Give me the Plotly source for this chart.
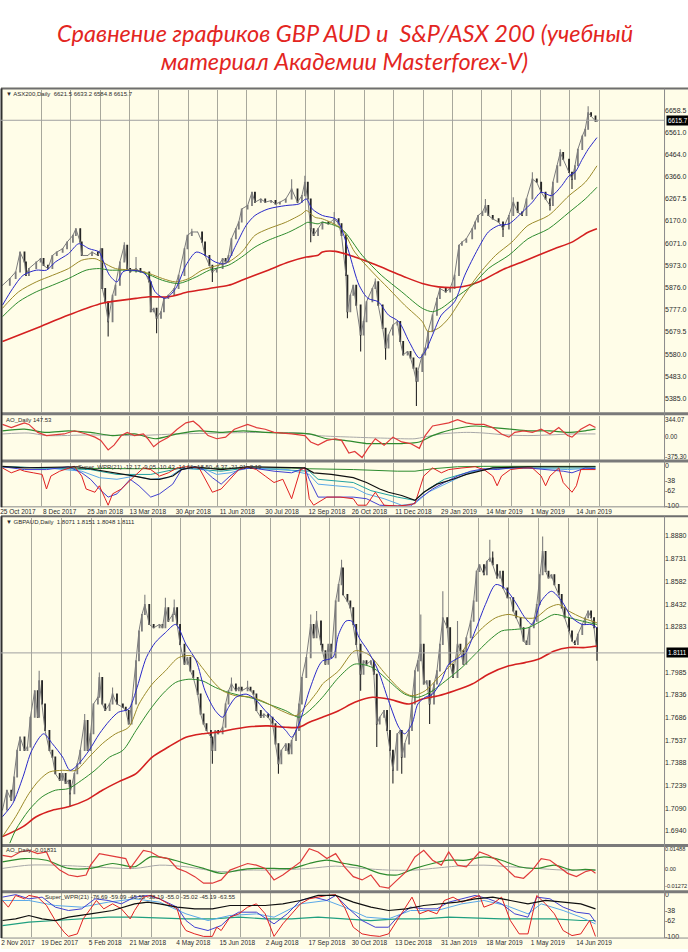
import plotly.graph_objects as go

# ---------------- DATA ----------------
# Top chart: ASX200 daily, x = bar number (trading days from 25 Oct 2017)
top_bar = [0, 5, 9, 12, 15, 16, 18, 23, 26, 28,
           31, 34, 37, 41, 44, 48, 50, 53, 54, 58,
           61, 65, 67, 68, 70, 72, 75, 77, 80, 83,
           85, 87, 91, 94, 97, 100, 101, 103, 105, 108,
           110, 113, 117, 120, 124, 126, 129, 133, 136, 138,
           141, 143, 146, 150, 152, 154, 156, 159, 161, 163,
           167, 170, 172, 176, 179, 183, 186, 189, 193, 197,
           201, 204, 206, 208, 210, 212, 215, 218, 222, 226,
           229, 231, 234, 235, 237, 239, 241, 244, 246, 248,
           252, 254, 256, 259, 261, 263, 266, 269, 271, 273,
           276, 278, 280, 282, 283, 286, 288, 290, 293, 296,
           298, 302, 305, 308, 311, 313, 316, 320, 322, 324,
           327, 329, 331, 334, 338, 341, 345, 348, 351, 354,
           357, 361, 364, 367, 370, 373, 375, 378, 380, 382,
           386, 388, 390, 392, 395, 397, 399, 401, 404, 405]
top_close = [5885, 5915, 5944, 6032, 5988, 5929, 5959, 5988, 6003, 5973,
             5959, 6017, 6032, 6047, 6076, 6106, 6135, 6076, 6017, 6017,
             6032, 6017, 6047, 5871, 5812, 5724, 5841, 5885, 5988, 6062,
             5959, 5944, 5959, 5944, 5944, 5900, 5768, 5783, 5739, 5768,
             5827, 5841, 5871, 5929, 6047, 6106, 6121, 6121, 6076, 6017,
             5973, 5944, 5959, 6003, 5988, 6017, 6091, 6135, 6165, 6223,
             6238, 6297, 6253, 6267, 6253, 6260, 6245, 6253, 6267, 6311,
             6253, 6282, 6341, 6267, 6135, 6106, 6135, 6165, 6157, 6179,
             6157, 6106, 5929, 5768, 5841, 5885, 5797, 5665, 5724, 5812,
             5871, 5900, 5797, 5695, 5607, 5665, 5709, 5724, 5636, 5577,
             5592, 5563, 5518, 5460, 5504, 5577, 5607, 5680, 5753, 5827,
             5871, 5856, 5871, 5929, 6062, 6076, 6091, 6135, 6165, 6194,
             6209, 6238, 6194, 6179, 6165, 6135, 6194, 6253, 6209, 6194,
             6267, 6355, 6341, 6297, 6267, 6238, 6341, 6414, 6473, 6443,
             6385, 6355, 6414, 6487, 6546, 6576, 6649, 6634, 6612, 6615.7]
top_spike_hi = {83: 6076, 91: 6010, 129: 6135, 197: 6355, 206: 6370, 226: 6209,
                254: 5915, 329: 6267, 348: 6275, 361: 6385, 380: 6487, 399: 6678}
top_spike_lo = {72: 5658, 105: 5673, 143: 5900, 210: 6076, 235: 5739, 244: 5592,
                261: 5555, 282: 5350, 341: 6099, 373: 6216, 388: 6311}

top_blue = [(0, 5797), (7, 5871), (14, 5929), (23, 5952), (30, 5952), (36, 5988), (45, 6025),
            (52, 6069), (59, 6047), (66, 6032), (68, 6003), (73, 5929), (78, 5900), (82, 5944),
            (86, 5952), (95, 5944), (100, 5915), (104, 5856), (111, 5827), (118, 5871),
            (125, 5974), (132, 6032), (138, 6018), (145, 5988), (152, 5981), (159, 6062),
            (166, 6150), (172, 6194), (181, 6223), (193, 6238), (202, 6245), (207, 6267),
            (211, 6223), (218, 6194), (227, 6179), (231, 6135), (236, 6032), (243, 5885),
            (249, 5827), (256, 5812), (263, 5753), (270, 5724), (277, 5636), (284, 5563),
            (288, 5592), (293, 5665), (299, 5753), (308, 5812), (315, 5930), (324, 6047),
            (331, 6121), (338, 6150), (345, 6157), (354, 6208), (361, 6253), (367, 6297),
            (374, 6282), (381, 6326), (386, 6370), (390, 6385), (395, 6443), (399, 6487),
            (405, 6539)]
top_olive = [(0, 5783), (11, 5856), (23, 5900), (34, 5929), (45, 5959), (54, 5996), (63, 6003),
             (68, 5988), (77, 5959), (91, 5952), (100, 5937), (109, 5915), (118, 5900),
             (127, 5915), (136, 5952), (147, 5974), (154, 5988), (163, 6032), (172, 6106),
             (181, 6135), (193, 6164), (204, 6201), (207, 6216), (213, 6186), (218, 6179),
             (231, 6135), (240, 6032), (252, 5944), (263, 5871), (274, 5797), (286, 5724),
             (290, 5680), (297, 5695), (304, 5739), (313, 5827), (324, 5929), (336, 6018),
             (347, 6076), (358, 6150), (372, 6194), (386, 6282), (397, 6341), (405, 6414)]
top_green = [(0, 5746), (11, 5812), (23, 5856), (34, 5885), (45, 5915), (57, 5952), (66, 5959),
             (73, 5952), (82, 5952), (95, 5944), (109, 5907), (120, 5893), (132, 5922),
             (141, 5952), (154, 5974), (163, 6010), (172, 6054), (181, 6084), (195, 6120),
             (204, 6150), (208, 6164), (215, 6157), (218, 6164), (231, 6135), (245, 6018),
             (258, 5930), (272, 5856), (286, 5783), (293, 5768), (299, 5783), (308, 5827),
             (320, 5885), (331, 5959), (345, 6018), (358, 6091), (372, 6135), (386, 6208),
             (397, 6267), (405, 6319)]
top_red = [(0, 5636), (23, 5695), (45, 5753), (68, 5805), (91, 5827), (100, 5834), (113, 5834),
           (127, 5856), (141, 5871), (154, 5885), (163, 5907), (181, 5952), (195, 5988),
           (207, 6010), (215, 6018), (218, 6032), (227, 6035), (240, 6010), (252, 5981),
           (263, 5952), (274, 5922), (286, 5893), (297, 5878), (308, 5875), (318, 5885),
           (327, 5907), (340, 5952), (354, 5988), (365, 6018), (376, 6047), (388, 6076),
           (399, 6120), (405, 6135)]

top_ao = [(0, 250), (6, 188), (12, 250), (15, 281), (18, 250), (24, 94), (30, 31), (42, 63),
          (49, 125), (57, 63), (63, 0), (67, -63), (72, -250), (76, -156), (81, 31), (85, 94),
          (90, 31), (96, 63), (99, -31), (103, -188), (107, -94), (113, 0), (119, 156),
          (125, 281), (130, 313), (134, 219), (140, 31), (146, -31), (152, 0), (158, 156),
          (167, 250), (173, 188), (179, 156), (185, 94), (197, 63), (206, 31), (210, -94),
          (215, -156), (221, -63), (227, -31), (231, -63), (236, -313), (240, -281),
          (245, -400), (249, -219), (254, -31), (260, -156), (266, 0), (272, -94),
          (278, -125), (284, -219), (288, 31), (293, 219), (299, 250), (304, 281),
          (310, 344), (316, 281), (322, 250), (328, 250), (334, 188), (340, 63), (345, 0),
          (349, 94), (355, 125), (361, 94), (367, 156), (373, 63), (379, 188), (385, 31),
          (388, 0), (394, 156), (400, 250), (404, 188)]
top_ao_signal = [(0, 125), (15, 156), (30, 94), (45, 125), (60, 94), (75, 31), (90, 63),
                 (104, -31), (119, 63), (134, 125), (149, 94), (164, 125), (179, 94),
                 (194, 81), (209, 63), (221, -31), (233, -63), (248, -125), (260, -125),
                 (272, -125), (284, -94), (293, 31), (307, 156), (322, 219), (334, 188),
                 (346, 156), (358, 125), (373, 125), (385, 94), (397, 125), (404, 156)]
top_ao_slow = [(0, 63), (18, 81), (30, 31), (60, 44), (90, 31), (119, 63), (149, 81),
               (179, 94), (203, 81), (215, 31), (239, 0), (260, -19), (281, -31), (287, 0),
               (299, 63), (316, 94), (328, 81), (343, 44), (358, 31), (373, 44), (388, 63),
               (404, 63)]

top_wpr_red = [(0, -6), (6, -18), (12, -10), (15, -14), (21, -18), (27, -22), (30, -58),
               (33, -26), (39, -14), (45, -6), (49, -2), (54, -26), (57, -58), (63, -66),
               (66, -50), (70, -82), (72, -98), (75, -70), (81, -58), (90, -26), (96, -6),
               (101, -10), (107, -26), (113, -18), (119, -6), (125, -3), (134, -6),
               (137, -26), (143, -66), (149, -58), (155, -34), (161, -10), (167, -3),
               (173, -10), (179, -26), (185, -42), (191, -34), (194, -58), (197, -82),
               (203, -10), (206, -6), (209, -82), (212, -98), (221, -78), (230, -78),
               (239, -82), (242, -98), (248, -98), (254, -66), (260, -98), (269, -100),
               (275, -98), (281, -94), (287, -26), (293, -6), (299, -18), (304, -10),
               (313, -6), (322, -3), (328, -10), (334, -26), (337, -50), (340, -26),
               (346, -10), (355, -6), (361, -6), (367, -26), (370, -50), (373, -26),
               (379, -6), (382, -42), (388, -66), (391, -50), (394, -10), (400, -10),
               (404, -10)]
top_wpr_blue = [(0, -3), (15, -10), (30, -10), (45, -3), (54, -18), (60, -34), (66, -58),
                (72, -78), (78, -70), (87, -34), (93, -50), (101, -78), (107, -70),
                (116, -46), (122, -10), (131, -3), (137, -10), (143, -30), (149, -46),
                (155, -26), (161, -10), (170, -6), (185, -14), (197, -18), (206, -6),
                (209, -34), (215, -78), (227, -78), (239, -78), (248, -82), (257, -98),
                (269, -100), (278, -100), (284, -82), (293, -58), (301, -42), (310, -26),
                (319, -14), (328, -8), (337, -10), (346, -6), (358, -6), (370, -10),
                (382, -14), (388, -18), (397, -6), (404, -8)]
top_wpr_lblue = [(0, -3), (30, -6), (54, -14), (66, -30), (78, -34), (90, -26), (101, -34),
                 (113, -30), (122, -8), (137, -8), (146, -22), (155, -18), (167, -6),
                 (194, -10), (209, -22), (215, -46), (227, -50), (239, -54), (248, -70),
                 (260, -82), (272, -98), (281, -94), (290, -66), (301, -46), (313, -26),
                 (322, -14), (334, -8), (358, -6), (385, -10), (404, -6)]
top_wpr_teal = [(0, -3), (60, -10), (78, -22), (101, -22), (122, -6), (149, -14), (167, -6),
                (209, -14), (215, -34), (239, -42), (251, -62), (269, -78), (281, -86),
                (290, -58), (301, -34), (316, -18), (334, -6), (404, -6)]
top_wpr_black = [(0, -2), (15, -6), (51, -3), (60, -8), (78, -18), (90, -26), (101, -34),
                 (107, -34), (116, -26), (122, -10), (131, -3), (149, -10), (167, -3),
                 (197, -6), (206, -6), (212, -18), (224, -22), (239, -30), (248, -42),
                 (257, -58), (263, -66), (272, -74), (281, -86), (287, -66), (296, -46),
                 (307, -34), (316, -22), (325, -14), (334, -6), (358, -3), (404, -3)]
top_wpr_green = [(0, -3), (30, -6), (90, -8), (149, -6), (197, -6), (209, -8), (239, -10),
                 (269, -14), (281, -14), (293, -8), (310, -3), (328, -2), (404, -2)]

# Bottom chart: GBPAUD daily (from 2 Nov 2017)
bot_bar = [0, 3, 6, 8, 10, 12, 15, 17, 19, 22,
           24, 25, 27, 29, 32, 34, 36, 39, 41, 43,
           45, 46, 49, 51, 53, 56, 58, 60, 62, 65,
           66, 68, 70, 73, 75, 78, 82, 84, 86, 88,
           91, 93, 95, 97, 100, 103, 107, 109, 111, 113,
           116, 117, 119, 121, 124, 126, 128, 130, 133, 135,
           137, 139, 142, 143, 145, 147, 150, 152, 154, 156,
           159, 161, 163, 167, 169, 171, 173, 176, 178, 181,
           184, 186, 188, 190, 193, 195, 197, 200, 202, 204,
           207, 210, 212, 214, 217, 218, 220, 222, 224, 227,
           229, 231, 232, 235, 237, 239, 241, 244, 246, 248,
           251, 253, 255, 257, 260, 262, 264, 266, 269, 271,
           272, 274, 277, 279, 281, 283, 285, 287, 289, 291,
           294, 296, 298, 300, 303, 305, 307, 310, 312, 314,
           316, 319, 321, 323, 325, 328, 330, 332, 334, 337,
           339, 341, 344, 346, 348, 350, 353, 355, 357, 359,
           362, 364, 366, 368, 370, 372, 374, 376, 379, 381,
           383, 386, 388, 390, 392, 395, 397, 399, 401, 403,
           405]
bot_close = [1.7078, 1.7208, 1.7143, 1.7295, 1.7470, 1.7557, 1.7470, 1.7492, 1.7688, 1.7862,
             1.7688, 1.7928, 1.7775, 1.7601, 1.7470, 1.7426, 1.7317, 1.7274, 1.7317, 1.7252,
             1.7274, 1.7186, 1.7317, 1.7382, 1.7470, 1.7666, 1.7470, 1.7579, 1.7775, 1.7819,
             1.7949, 1.7775, 1.7732, 1.7775, 1.7840, 1.7775, 1.7753, 1.7732, 1.7644, 1.7775,
             1.8059, 1.8255, 1.8363, 1.8429, 1.8298, 1.8276, 1.8298, 1.8276, 1.8407, 1.8320,
             1.8363, 1.8407, 1.8298, 1.8167, 1.8036, 1.8080, 1.7993, 1.7949, 1.7840, 1.7709,
             1.7644, 1.7601, 1.7557, 1.7470, 1.7601, 1.7579, 1.7622, 1.7775, 1.7862, 1.7906,
             1.7862, 1.7884, 1.7862, 1.7884, 1.7862, 1.7840, 1.7732, 1.7688, 1.7709, 1.7688,
             1.7644, 1.7513, 1.7382, 1.7470, 1.7513, 1.7448, 1.7535, 1.7601, 1.7775, 1.7949,
             1.8080, 1.8298, 1.8211, 1.8320, 1.8167, 1.8124, 1.8036, 1.8167, 1.8080, 1.8451,
             1.8560, 1.8669, 1.8494, 1.8451, 1.8407, 1.8298, 1.8167, 1.7971, 1.8059, 1.8036,
             1.8059, 1.7971, 1.7644, 1.7688, 1.7732, 1.7601, 1.7470, 1.7339, 1.7579, 1.7601,
             1.7426, 1.7513, 1.7601, 1.7775, 1.7993, 1.8059, 1.8167, 1.7906, 1.7928, 1.7775,
             1.7906, 1.7993, 1.8167, 1.8342, 1.8276, 1.8036, 1.7949, 1.8167, 1.8124, 1.8036,
             1.8211, 1.8320, 1.8451, 1.8647, 1.8690, 1.8625, 1.8713, 1.8734, 1.8690, 1.8603,
             1.8647, 1.8538, 1.8473, 1.8473, 1.8386, 1.8342, 1.8276, 1.8189, 1.8167, 1.8276,
             1.8320, 1.8429, 1.8625, 1.8778, 1.8647, 1.8603, 1.8625, 1.8560, 1.8494, 1.8407,
             1.8342, 1.8255, 1.8189, 1.8167, 1.8233, 1.8298, 1.8342, 1.8386, 1.8342, 1.8276,
             1.8111]
bot_spike_hi = {25: 1.7993, 56: 1.7709, 66: 1.7982, 75: 1.7884, 97: 1.8494, 111: 1.8473,
                117: 1.8462, 156: 1.7949, 167: 1.7928, 210: 1.8363, 214: 1.8386, 231: 1.8723,
                285: 1.8363, 300: 1.8516, 310: 1.8320, 332: 1.8854, 334: 1.8778, 368: 1.8876}
bot_spike_lo = {46: 1.7099, 143: 1.7382, 188: 1.7317, 244: 1.7862, 255: 1.7492, 266: 1.7252,
                272: 1.7317, 291: 1.7644, 405: 1.8059}

bot_blue = [(0, 1.7034), (7, 1.7121), (14, 1.7296), (20, 1.7470), (28, 1.7579), (34, 1.7514),
            (41, 1.7426), (46, 1.7339), (52, 1.7383), (59, 1.7470), (66, 1.7579), (73, 1.7666),
            (79, 1.7721), (86, 1.7742), (91, 1.7862), (98, 1.8080), (104, 1.8178), (111, 1.8244),
            (118, 1.8298), (125, 1.8168), (132, 1.8058), (138, 1.7862), (145, 1.7731),
            (150, 1.7688), (154, 1.7753), (159, 1.7819), (166, 1.7840), (172, 1.7808),
            (179, 1.7731), (186, 1.7666), (193, 1.7601), (197, 1.7557), (202, 1.7644),
            (209, 1.7862), (215, 1.8015), (218, 1.8058), (225, 1.8080), (229, 1.8233),
            (234, 1.8320), (238, 1.8320), (243, 1.8211), (249, 1.8124), (256, 1.7993),
            (263, 1.7797), (270, 1.7622), (274, 1.7579), (279, 1.7644), (283, 1.7775),
            (288, 1.7819), (293, 1.7840), (299, 1.7928), (304, 1.8037), (311, 1.8080),
            (315, 1.8102), (322, 1.8255), (329, 1.8429), (336, 1.8560), (342, 1.8538),
            (349, 1.8451), (356, 1.8342), (361, 1.8298), (367, 1.8451), (374, 1.8516),
            (381, 1.8451), (388, 1.8342), (395, 1.8298), (401, 1.8298), (405, 1.8276)]
bot_olive = [(0, 1.6903), (9, 1.7034), (18, 1.7186), (25, 1.7274), (32, 1.7328), (41, 1.7339),
             (50, 1.7339), (59, 1.7426), (68, 1.7514), (77, 1.7579), (86, 1.7622), (93, 1.7775),
             (102, 1.7906), (111, 1.7993), (120, 1.8080), (129, 1.8091), (136, 1.8015),
             (143, 1.7928), (150, 1.7862), (159, 1.7829), (170, 1.7819), (179, 1.7786),
             (190, 1.7731), (200, 1.7699), (206, 1.7753), (215, 1.7862), (218, 1.7906),
             (229, 1.7993), (240, 1.8124), (249, 1.8102), (261, 1.7971), (272, 1.7862),
             (279, 1.7829), (288, 1.7862), (297, 1.7949), (308, 1.8058), (317, 1.8168),
             (327, 1.8276), (336, 1.8342), (345, 1.8364), (354, 1.8342), (363, 1.8342),
             (372, 1.8407), (379, 1.8429), (386, 1.8385), (395, 1.8342), (405, 1.8309)]
bot_green = [(5, 1.6860), (9, 1.6947), (18, 1.7077), (27, 1.7165), (36, 1.7208), (45, 1.7219),
             (54, 1.7274), (63, 1.7339), (73, 1.7426), (82, 1.7470), (91, 1.7601), (100, 1.7731),
             (109, 1.7840), (118, 1.7917), (127, 1.7938), (136, 1.7928), (145, 1.7884),
             (154, 1.7851), (163, 1.7829), (172, 1.7808), (181, 1.7775), (193, 1.7731),
             (202, 1.7688), (209, 1.7731), (218, 1.7819), (229, 1.7949), (240, 1.8037),
             (252, 1.8015), (263, 1.7928), (274, 1.7840), (283, 1.7819), (293, 1.7862),
             (302, 1.7928), (313, 1.8015), (322, 1.8102), (331, 1.8189), (340, 1.8255),
             (349, 1.8265), (358, 1.8276), (367, 1.8320), (376, 1.8364), (386, 1.8342),
             (395, 1.8320), (405, 1.8298)]
bot_red = [(0, 1.6903), (14, 1.6969), (23, 1.7034), (34, 1.7077), (45, 1.7099), (57, 1.7143),
           (68, 1.7208), (79, 1.7263), (91, 1.7317), (102, 1.7426), (113, 1.7492),
           (125, 1.7557), (136, 1.7579), (147, 1.7590), (159, 1.7612), (170, 1.7627),
           (181, 1.7631), (193, 1.7622), (202, 1.7622), (209, 1.7655), (218, 1.7688),
           (229, 1.7731), (240, 1.7786), (252, 1.7819), (263, 1.7808), (277, 1.7775),
           (286, 1.7808), (297, 1.7829), (308, 1.7862), (320, 1.7906), (331, 1.7971),
           (345, 1.8026), (356, 1.8047), (365, 1.8069), (376, 1.8124), (386, 1.8146),
           (397, 1.8146), (405, 1.8156)]

bot_ao = [(0, 0.0101), (6, 0.0089), (12, 0.0125), (18, 0.0137), (24, 0.0113), (30, 0.0125),
          (33, 0.0053), (39, -0.0007), (45, -0.0043), (51, -0.0055), (57, -0.0043),
          (60, 0.0029), (66, 0.0113), (72, 0.0101), (78, 0.0089), (84, 0.0077), (87, 0.0005),
          (93, 0.0089), (96, 0.0137), (101, 0.0125), (107, 0.0089), (113, 0.0077),
          (119, 0.0005), (125, -0.0019), (131, -0.0055), (137, -0.0103), (143, -0.0103),
          (149, -0.0079), (155, -0.0007), (161, 0.0017), (167, 0.0041), (173, 0.0029),
          (179, 0.0005), (185, -0.0079), (191, -0.0043), (197, 0.0005), (203, 0.0053),
          (209, 0.0149), (215, 0.0125), (221, 0.0077), (227, 0.0113), (233, 0.0017),
          (239, -0.0055), (245, -0.0079), (251, -0.0043), (257, -0.0127), (263, -0.0139),
          (269, -0.0079), (275, -0.0019), (281, 0.0089), (287, 0.0137), (293, 0.0065),
          (299, 0.0029), (304, 0.0125), (310, 0.0029), (316, 0.0017), (322, 0.0089),
          (325, 0.0125), (331, 0.0101), (337, 0.0065), (343, 0.0005), (349, -0.0055),
          (355, -0.0067), (361, -0.0007), (367, 0.0077), (373, 0.0065), (379, 0.0017),
          (385, -0.0031), (391, -0.0055), (397, -0.0019), (401, -0.0007), (404, -0.0031)]
bot_ao_signal = [(0, 0.0053), (15, 0.0077), (30, 0.0065), (45, 0.0005), (60, 0.0005),
                 (75, 0.0041), (90, 0.0017), (101, 0.0089), (113, 0.0077), (125, 0.0041),
                 (137, 0.0005), (149, -0.0031), (161, -0.0007), (173, 0.0005), (185, 0.0005),
                 (197, 0.0005), (209, 0.0041), (221, 0.0065), (233, 0.0041), (245, 0.0017),
                 (257, -0.0031), (269, -0.0043), (281, 0.0005), (293, 0.0041), (304, 0.0065),
                 (316, 0.0065), (328, 0.0089), (340, 0.0065), (352, 0.0017), (364, 0.0005),
                 (376, 0.0029), (388, -0.0007), (397, -0.0002), (404, -0.0007)]
bot_ao_slow = [(0, 0.0005), (18, 0.0029), (36, 0.0029), (60, 0.0017), (90, 0.0005),
               (107, 0.0029), (125, 0.0017), (149, -0.0019), (167, -0.0007), (185, -0.0007),
               (209, 0.0005), (227, 0.0022), (245, 0.0005), (263, -0.0007), (281, -0.0007),
               (293, 0.0005), (310, 0.0022), (328, 0.0029), (346, 0.0017), (364, 0.0005),
               (382, -0.0007), (404, -0.0007)]

bot_wpr_red = [(0, -14), (4, -30), (9, -2), (15, -10), (18, -2), (24, -6), (30, -26), (36, -62),
               (42, -90), (45, -100), (51, -94), (55, -58), (60, -34), (64, -14), (69, -34),
               (75, -22), (81, -34), (87, -58), (90, -38), (96, -6), (101, -2), (107, -10),
               (113, -22), (119, -34), (122, -70), (125, -86), (131, -94), (137, -100),
               (143, -100), (146, -78), (149, -86), (155, -54), (161, -46), (167, -30),
               (173, -22), (179, -46), (185, -100), (191, -70), (197, -46), (203, -22),
               (209, -10), (215, -6), (221, -2), (227, 0), (233, -30), (239, -78), (245, -94),
               (251, -98), (257, -100), (263, -94), (269, -62), (275, -30), (279, -6),
               (284, -46), (290, -38), (296, -46), (301, -14), (307, -6), (313, -18),
               (319, -10), (325, -2), (328, -30), (334, -22), (340, -6), (346, -62),
               (352, -94), (358, -94), (364, -2), (370, -22), (376, -46), (382, -86),
               (388, -98), (394, -94), (400, -62), (404, -100)]
bot_wpr_blue = [(0, -6), (9, 0), (18, -10), (27, -6), (36, -30), (45, -38), (54, -34),
                (63, -10), (72, -14), (81, -22), (90, -6), (99, -2), (107, -10), (119, -30),
                (125, -62), (131, -78), (140, -86), (149, -74), (155, -54), (161, -42),
                (173, -42), (185, -70), (194, -46), (203, -14), (212, -6), (221, -14),
                (227, -2), (236, -34), (245, -62), (254, -78), (263, -78), (269, -54),
                (278, -30), (287, -34), (296, -34), (304, -18), (313, -10), (322, -2),
                (331, -10), (340, -22), (349, -46), (358, -54), (364, -6), (373, -10),
                (382, -30), (391, -42), (400, -46), (404, -66)]
bot_wpr_lblue = [(0, -14), (18, -14), (36, -26), (54, -30), (72, -18), (90, -10), (107, -18),
                 (125, -46), (140, -62), (155, -50), (173, -46), (185, -54), (203, -22),
                 (221, -14), (233, -30), (248, -54), (263, -58), (278, -38), (296, -38),
                 (313, -22), (328, -14), (343, -26), (358, -46), (367, -22), (382, -38),
                 (394, -54), (404, -70)]
bot_wpr_black = [(0, -62), (9, -58), (18, -50), (27, -58), (36, -62), (45, -54), (60, -46),
                 (75, -38), (90, -22), (99, -18), (107, -22), (119, -30), (131, -34),
                 (143, -34), (155, -26), (167, -26), (179, -26), (191, -22), (203, -14),
                 (215, -2), (227, -2), (239, -18), (251, -30), (263, -38), (275, -34),
                 (287, -26), (299, -22), (310, -18), (322, -10), (334, -6), (346, -14),
                 (358, -22), (370, -14), (382, -18), (394, -22), (404, -34)]
bot_wpr_teal = [(0, -74), (18, -66), (36, -62), (54, -58), (72, -54), (90, -54), (107, -56),
                (125, -58), (143, -58), (161, -54), (179, -58), (197, -58), (215, -54),
                (233, -58), (251, -62), (269, -58), (287, -58), (304, -54), (322, -56),
                (340, -58), (358, -58), (376, -58), (394, -62), (404, -62)]

top_dates = ["25 Oct 2017", "8 Dec 2017", "25 Jan 2018", "13 Mar 2018", "30 Apr 2018",
             "11 Jun 2018", "30 Jul 2018", "12 Sep 2018", "26 Oct 2018", "11 Dec 2018",
             "29 Jan 2019", "14 Mar 2019", "1 May 2019", "14 Jun 2019"]
bot_dates = ["2 Nov 2017", "19 Dec 2017", "5 Feb 2018", "21 Mar 2018", "4 May 2018",
             "15 Jun 2018", "2 Aug 2018", "17 Sep 2018", "30 Oct 2018", "13 Dec 2018",
             "31 Jan 2019", "18 Mar 2019", "1 May 2019", "14 Jun 2019"]
date_bars = [10.5, 39, 70, 99, 130, 160, 190.5, 221, 250, 280, 311, 342, 371.5, 403]

top_price_ticks = [6658.5, 6561.0, 6464.0, 6366.0, 6267.5, 6170.0, 6071.0, 5973.0, 5876.0,
                   5777.0, 5679.5, 5580.0, 5483.0, 5385.0]
bot_price_ticks = [1.8880, 1.8731, 1.8582, 1.8432, 1.8283, 1.7985, 1.7836, 1.7686, 1.7537,
                   1.7388, 1.7239, 1.7090, 1.6940]
top_ao_ticks = [344.07, 0.0, -375.30]
bot_ao_ticks = [0.01488, 0.0, -0.01272]
wpr_ticks = [0, -38, -62, -100]

top_last = 6615.7
bot_last = 1.8111

assert len(top_bar) == len(top_close)
assert len(bot_bar) == len(bot_close)

# ---------------- FIGURE ----------------
W, H = 688, 952
CREAM = "#FFFDE8"
TXT = "#2b2b2b"
FONT = "Liberation Sans"


def py(px):
    return 1 - px / H


def ohlc(bars, closes, hi, lo):
    opens = [closes[0]] + closes[:-1]
    highs = [max(o, c, hi.get(b, c)) for b, o, c in zip(bars, opens, closes)]
    lows = [min(o, c, lo.get(b, c)) for b, o, c in zip(bars, opens, closes)]
    return opens, highs, lows


fig = go.Figure()


def add_candles(bars, closes, hi, lo, xa, ya):
    o, h, l = ohlc(bars, closes, hi, lo)
    fig.add_trace(go.Scatter(x=bars, y=closes, mode="lines", xaxis=xa, yaxis=ya,
                             line=dict(color="#7c7c7c", width=1.0), showlegend=False,
                             hoverinfo="skip"))
    fig.add_trace(go.Candlestick(
        x=bars, open=o, high=h, low=l, close=closes, xaxis=xa, yaxis=ya,
        increasing=dict(line=dict(color="#7e7e7e", width=1.1), fillcolor="#cfcfcf"),
        decreasing=dict(line=dict(color="#262626", width=1.1), fillcolor="#262626"),
        whiskerwidth=0, showlegend=False, hoverinfo="skip"))


def add_line(pairs, color, width, xa, ya, shape="spline"):
    fig.add_trace(go.Scatter(
        x=[p[0] for p in pairs], y=[p[1] for p in pairs], mode="lines",
        line=dict(color=color, width=width, shape=shape, smoothing=0.8),
        xaxis=xa, yaxis=ya, showlegend=False, hoverinfo="skip"))


# top chart
add_candles(top_bar, top_close, top_spike_hi, top_spike_lo, "x", "y")
add_line(top_red, "#d42020", 1.6, "x", "y")
add_line(top_green, "#2e8b2e", 1.0, "x", "y")
add_line(top_olive, "#9b8a2a", 1.0, "x", "y")
add_line(top_blue, "#2828c8", 1.0, "x", "y")
add_line(top_ao_slow, "#a8a8a8", 1.0, "x2", "y2")
add_line(top_ao_signal, "#2e8b2e", 1.2, "x2", "y2")
add_line(top_ao, "#e03a3a", 1.2, "x2", "y2", "linear")
add_line(top_wpr_green, "#2e8b2e", 1.0, "x3", "y3", "linear")
add_line(top_wpr_teal, "#20a0a0", 1.0, "x3", "y3", "linear")
add_line(top_wpr_lblue, "#5aa8e8", 1.0, "x3", "y3", "linear")
add_line(top_wpr_blue, "#4040d0", 1.0, "x3", "y3", "linear")
add_line(top_wpr_red, "#e02020", 1.0, "x3", "y3", "linear")
add_line(top_wpr_black, "#101010", 1.2, "x3", "y3", "linear")

# bottom chart
add_candles(bot_bar, bot_close, bot_spike_hi, bot_spike_lo, "x4", "y4")
add_line(bot_red, "#d42020", 1.6, "x4", "y4")
add_line(bot_green, "#2e8b2e", 1.0, "x4", "y4")
add_line(bot_olive, "#9b8a2a", 1.0, "x4", "y4")
add_line(bot_blue, "#2828c8", 1.0, "x4", "y4")
add_line(bot_ao_slow, "#a8a8a8", 1.0, "x5", "y5")
add_line(bot_ao_signal, "#2e8b2e", 1.2, "x5", "y5")
add_line(bot_ao, "#e03a3a", 1.2, "x5", "y5", "linear")
add_line(bot_wpr_teal, "#20a080", 1.2, "x6", "y6", "linear")
add_line(bot_wpr_lblue, "#5aa8e8", 1.0, "x6", "y6", "linear")
add_line(bot_wpr_blue, "#4040d0", 1.0, "x6", "y6", "linear")
add_line(bot_wpr_red, "#e02020", 1.0, "x6", "y6", "linear")
add_line(bot_wpr_black, "#101010", 1.2, "x6", "y6", "linear")

XR = [-1, 450.7]
XDOM = [0.0, 664 / W]
top_grid = [26.5 + 20 * k for k in range(20)]
bot_grid = [20 + 20.3 * k for k in range(20)]


def xaxis(anchor, grid, labels=None):
    d = dict(domain=XDOM, range=XR, anchor=anchor, showgrid=False, zeroline=False,
             showline=False, ticks="", fixedrange=True, rangeslider=dict(visible=False),
             minor=dict(tickmode="array", tickvals=grid, showgrid=True,
                        gridcolor="#a8a89c", gridwidth=1, ticks=""))
    if labels:
        d.update(tickmode="array", tickvals=date_bars, ticktext=labels, tickangle=0,
                 ticklabeloverflow="allow",
                 tickfont=dict(family=FONT, size=6.5, color=TXT), showticklabels=True)
    else:
        d.update(showticklabels=False)
    return d


def yaxis(anchor, dom, rng, tickvals, ticktext, size=7):
    return dict(domain=[py(dom[1]), py(dom[0])], range=rng, anchor=anchor, side="right",
                showgrid=False, zeroline=False, showline=False, ticks="", fixedrange=True,
                tickmode="array", tickvals=tickvals, ticktext=ticktext,
                ticklabeloverflow="allow",
                tickfont=dict(family=FONT, size=size, color=TXT))


top_main_px = (88, 412)
top_ao_px = (416, 460)
top_wpr_px = (463, 507)
bot_main_px = (519, 847)
bot_ao_px = (849, 893)
bot_wpr_px = (896, 940)

fig.update_layout(
    width=W, height=H, margin=dict(l=0, r=0, t=0, b=0), autosize=False,
    paper_bgcolor="white", plot_bgcolor=CREAM, showlegend=False,
    xaxis=xaxis("y", top_grid),
    xaxis2=xaxis("y2", top_grid),
    xaxis3=xaxis("y3", top_grid, top_dates),
    xaxis4=xaxis("y4", bot_grid),
    xaxis5=xaxis("y5", bot_grid),
    xaxis6=xaxis("y6", bot_grid, bot_dates),
    yaxis=yaxis("x", top_main_px, [5324.6, 6751.8], top_price_ticks,
                [f"{v:.1f}" for v in top_price_ticks]),
    yaxis2=yaxis("x2", top_ao_px, [-440, 419], top_ao_ticks,
                 [f"{v:.2f}" for v in top_ao_ticks], 6.3),
    yaxis3=yaxis("x3", top_wpr_px, [-100.8, 7.3], wpr_ticks, [str(v) for v in wpr_ticks]),
    yaxis4=yaxis("x4", bot_main_px, [1.6851, 1.8996], bot_price_ticks,
                 [f"{v:.4f}" for v in bot_price_ticks]),
    yaxis5=yaxis("x5", bot_ao_px, [-0.0155, 0.0165], bot_ao_ticks,
                 [f"{v:.5f}" if v else "0.00" for v in bot_ao_ticks], 5.6),
    yaxis6=yaxis("x6", bot_wpr_px, [-101.6, 3.2], wpr_ticks, [str(v) for v in wpr_ticks]),
)

shapes = []
shapes.append(dict(type="rect", xref="paper", yref="paper", x0=0, x1=1, y0=0, y1=py(86),
                   fillcolor=CREAM, line=dict(width=0), layer="below"))
for ypx, col, w in [(87, "#6e6e6e", 2), (414, "#7a7a7a", 3), (461.5, "#7a7a7a", 3),
                    (507.5, "#8a8a8a", 1), (517, "#6e6e6e", 2), (848, "#7a7a7a", 3),
                    (894.5, "#7a7a7a", 3), (941, "#8a8a8a", 1)]:
    shapes.append(dict(type="line", xref="paper", yref="paper", x0=0, x1=1, y0=py(ypx),
                       y1=py(ypx), line=dict(color=col, width=w)))
for (a, b) in [(87, 508), (517, 941)]:
    shapes.append(dict(type="line", xref="paper", yref="paper", x0=664.5 / W, x1=664.5 / W,
                       y0=py(b), y1=py(a), line=dict(color="#8a8a8a", width=1)))
    shapes.append(dict(type="line", xref="paper", yref="paper", x0=0.5 / W, x1=0.5 / W,
                       y0=py(b), y1=py(a), line=dict(color="#303030", width=2)))
shapes.append(dict(type="line", xref="x domain", yref="y", x0=0, x1=1, y0=top_last,
                   y1=top_last, line=dict(color="#a0a0a0", width=1)))
shapes.append(dict(type="line", xref="x4 domain", yref="y4", x0=0, x1=1, y0=bot_last,
                   y1=bot_last, line=dict(color="#a0a0a0", width=1)))
fig.update_layout(shapes=shapes)

ann = []
RED = "#e3261f"
ann.append(dict(text="<i>Сравнение графиков GBP AUD и  S&amp;P/ASX 200 (учебный</i>",
                xref="paper", yref="paper", x=0.5, y=py(31), yanchor="middle",
                showarrow=False, font=dict(family="Lato", size=23.5, color=RED)))
ann.append(dict(text="<i>материал Академии Masterforex-V)</i>",
                xref="paper", yref="paper", x=0.5, y=py(59), yanchor="middle",
                showarrow=False, font=dict(family="Lato", size=23.5, color=RED)))


def small(text, xpx, ypx):
    ann.append(dict(text=text, xref="paper", yref="paper", x=xpx / W, y=py(ypx),
                    xanchor="left", yanchor="middle", showarrow=False,
                    font=dict(family=FONT, size=6, color=TXT)))


small("▼ ASX200,Daily  6621.5 6633.2 6584.8 6615.7", 3, 92.5)
small("AO_Daily 147.53", 3, 420)
small("Super_WPR(21) -12.17 -9.05 -10.43 -14.66 -18.50 -6.37 -21.01 -2.19", 75, 467)
small("▼ GBPAUD,Daily  1.8071 1.8151 1.8048 1.8111", 3, 523)
small("AO_Daily -0.01831", 3, 852)
small("Super_WPR(21) -76.69 -59.09 -45.55 -38.19 -55.0 -35.02 -45.19 -63.55", 42, 900)

for val, ya in [(top_last, "y"), (bot_last, "y4")]:
    ann.append(dict(text=(f"{val:.1f}" if val > 100 else f"{val:.4f}"), xref="paper",
                    yref=ya, x=665.5 / W, y=val, xanchor="left", yanchor="middle",
                    showarrow=False, bgcolor="#000000", borderpad=1,
                    font=dict(family=FONT, size=6.3, color="white")))

fig.update_layout(annotations=ann)
fig.write_html(
    "out.html",
    config={"responsive": False, "displayModeBar": False},
    post_script="document.documentElement.style.margin='0';"
                "document.body.style.margin='0';document.body.style.padding='0';"
                "document.body.style.overflow='hidden';",
)
